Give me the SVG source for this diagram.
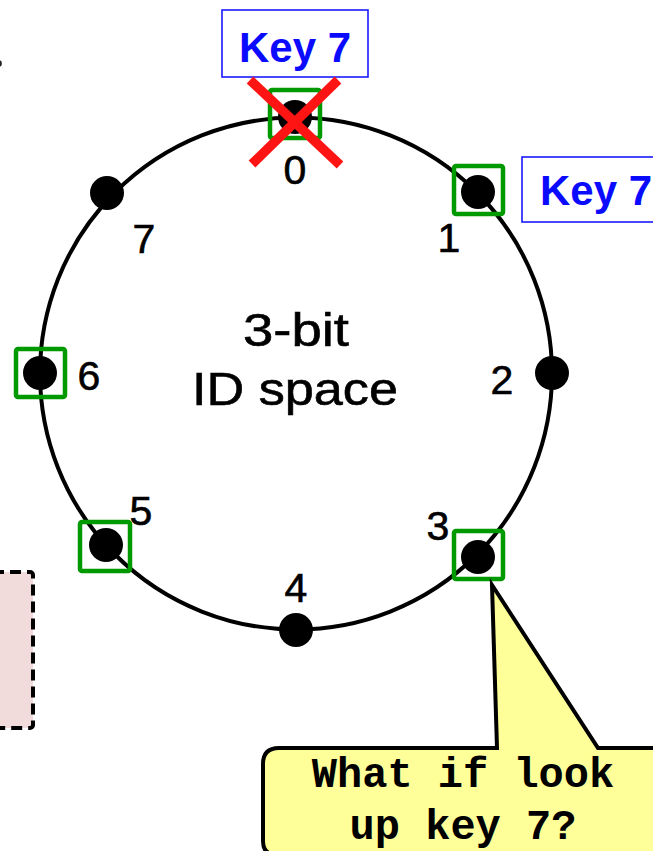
<svg xmlns="http://www.w3.org/2000/svg" width="653" height="851" viewBox="0 0 653 851">
  <style>
    .ring { fill: none; stroke: #000; stroke-width: 4; }
    .dot { fill: #000; }
    .sel { fill: none; stroke: #009900; stroke-width: 4.5; }
    .num { font-family: "Liberation Sans", Arial, sans-serif; font-size: 41px; fill: #000; text-anchor: middle; stroke: #000; stroke-width: 0.6; }
    .key { font-family: "Liberation Sans", Arial, sans-serif; font-size: 42px; font-weight: bold; fill: #0a0aff; text-anchor: middle; }
    .keybox { fill: #fff; stroke: #1a1aff; stroke-width: 1.6; }
    .center { font-family: "Liberation Sans", Arial, sans-serif; font-size: 46px; fill: #000; text-anchor: middle; stroke: #000; stroke-width: 0.6; }
    .mono { font-family: "Liberation Mono", "Courier New", monospace; font-size: 42px; font-weight: bold; fill: #000; text-anchor: middle; }
    .cross { stroke: #ff1414; stroke-width: 9.5; }
  </style>

  <!-- partial elements at the edges -->
  <rect id="edge-box" x="-10" y="572" width="43" height="156" rx="3" fill="#f2dcdb" stroke="#000" stroke-width="4" stroke-dasharray="11 6"/>
  <ellipse cx="0" cy="63.5" rx="1.8" ry="3" fill="#222"/>

  <!-- ring -->
  <g id="ring">
    <circle class="ring" cx="296" cy="373.5" r="256"/>
    <text class="center" x="296" y="346" textLength="106" lengthAdjust="spacingAndGlyphs">3-bit</text>
    <text class="center" x="295" y="405" textLength="206" lengthAdjust="spacingAndGlyphs">ID space</text>
  </g>

  <!-- nodes -->
  <g id="node-0">
    <rect class="sel" x="270" y="90" width="50" height="48" rx="2"/>
    <circle class="dot" cx="295" cy="117" r="17"/>
    <text class="num" x="295" y="184">0</text>
  </g>
  <g id="node-1">
    <rect class="sel" x="454" y="166" width="49" height="48" rx="2"/>
    <circle class="dot" cx="478" cy="192" r="17"/>
    <text class="num" x="449" y="252">1</text>
  </g>
  <g id="node-2">
    <circle class="dot" cx="552" cy="373" r="17"/>
    <text class="num" x="502" y="394">2</text>
  </g>
  <g id="node-3">
    <rect class="sel" x="454" y="531" width="49" height="48" rx="2"/>
    <circle class="dot" cx="478" cy="557" r="17"/>
    <text class="num" x="438" y="540">3</text>
  </g>
  <g id="node-4">
    <circle class="dot" cx="296" cy="630" r="17"/>
    <text class="num" x="296" y="602">4</text>
  </g>
  <g id="node-5">
    <rect class="sel" x="80" y="522" width="50" height="49" rx="2"/>
    <circle class="dot" cx="106" cy="545" r="17"/>
    <text class="num" x="141" y="525">5</text>
  </g>
  <g id="node-6">
    <rect class="sel" x="16" y="349" width="49" height="48" rx="2"/>
    <circle class="dot" cx="40" cy="373" r="17"/>
    <text class="num" x="89" y="390">6</text>
  </g>
  <g id="node-7">
    <circle class="dot" cx="107" cy="193" r="17"/>
    <text class="num" x="144" y="253">7</text>
  </g>

  <!-- key labels -->
  <g id="key-top">
    <rect class="keybox" x="222" y="10" width="146" height="67"/>
    <text class="key" x="295" y="62">Key 7</text>
  </g>
  <g id="key-right">
    <rect class="keybox" x="522" y="157" width="150" height="65"/>
    <text class="key" x="596" y="205">Key 7</text>
  </g>

  <!-- failure mark on node 0 -->
  <g id="cross">
    <line class="cross" x1="250" y1="80" x2="340" y2="165"/>
    <line class="cross" x1="338" y1="80" x2="252" y2="164"/>
  </g>

  <!-- callout -->
  <g id="connectors">
    <path id="callout" d="M 279 748 L 497 748 L 492 585 L 598 748 L 700 748 L 700 855 L 277 855 Q 263 855 263 841 L 263 764 Q 263 748 279 748 Z" fill="#ffff99" stroke="#000" stroke-width="4" stroke-linejoin="miter"/>
  </g>
  <g id="callout-text">
    <text class="mono" x="463" y="787">What if look</text>
    <text class="mono" x="463" y="839">up key 7?</text>
  </g>
</svg>
